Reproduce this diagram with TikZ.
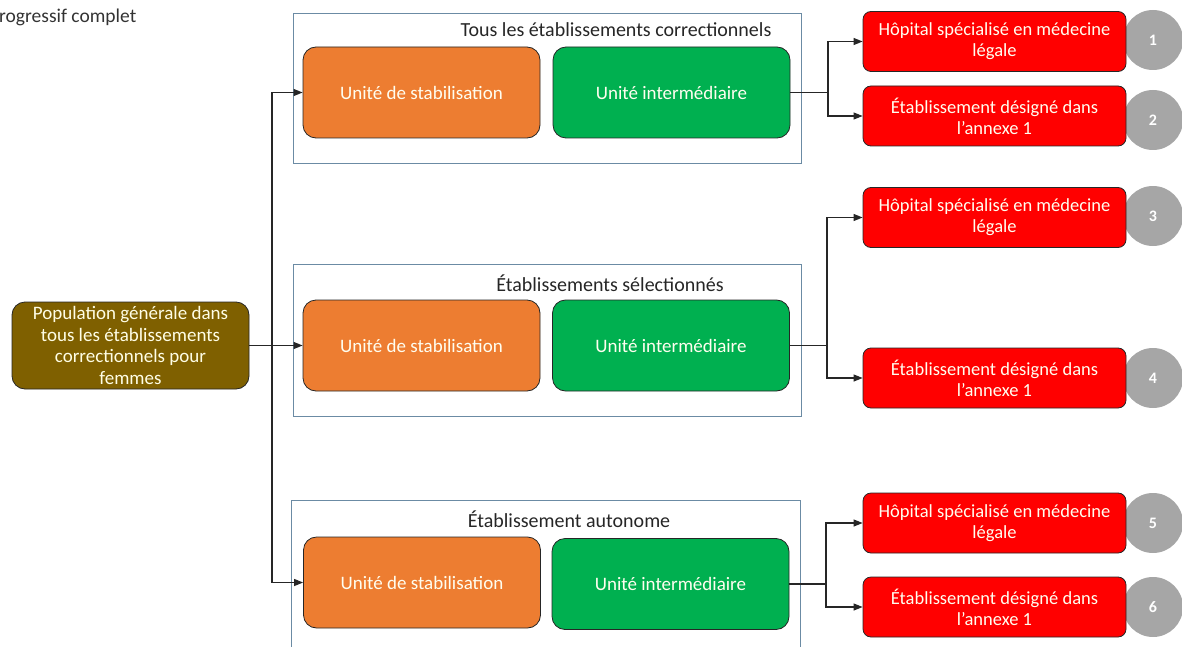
\documentclass[tikz,border=0pt]{standalone}
\usepackage{fontspec}
\setmainfont{Carlito}
\usetikzlibrary{arrows.meta,calc,shapes.geometric}

\definecolor{stabcol}{HTML}{ED7D31}
\definecolor{intercol}{HTML}{00B050}
\definecolor{popcol}{HTML}{7F6000}
\definecolor{grpcol}{HTML}{6B8BA4}
\definecolor{disccol}{HTML}{A6A6A6}
\definecolor{linecol}{HTML}{262626}

\tikzset{
	unitbox/.style={draw=linecol,line width=0.8pt,rounded corners=13pt,minimum width=237pt,minimum height=91pt,text=white!94!yellow,font=\fontsize{19}{22}\selectfont},
	stabbox/.style={unitbox,fill=stabcol},
	interbox/.style={unitbox,fill=intercol},
	popbox/.style={unitbox,fill=popcol,minimum height=87pt,align=center,text=white!90!yellow,font=\fontsize{19}{21.5}\selectfont},
	hopbox/.style={draw=linecol,line width=0.8pt,rounded corners=8pt,fill=red,minimum width=263pt,minimum height=60pt,align=center,text=white!94!yellow,font=\fontsize{18.5}{21}\selectfont},
	grpbox/.style={draw=grpcol,line width=0.9pt,minimum width=508pt},
	grptitle/.style={font=\fontsize{20}{22}\selectfont,text=black!85},
	numdisc/.style={ellipse,fill=disccol,minimum width=60pt,minimum height=60pt,inner sep=0pt,text=white,font=\fontsize{16}{18}\selectfont\bfseries},
	arr/.style={draw=linecol,line width=1.1pt,-{Triangle[length=9pt,width=7pt]}}
}

\begin{document}
\begin{tikzpicture}[x=1pt,y=-1pt]
	\useasboundingbox (0,0) rectangle (1182,647);
	\node[anchor=west,text=black!80,font=\fontsize{19.5}{22}\selectfont,inner sep=0pt] (cut) at (-1,17) {rogressif complet};

	\node[grpbox,minimum height=150pt] (grp1) at (547,88) {};
	\node[grpbox,minimum height=152pt] (grp2) at (547,340) {};
	\node[grpbox,minimum width=509pt,minimum height=170pt] (grp3) at (545.5,585) {};
	\node[grptitle] (ttl1) at (616,30) {Tous les établissements correctionnels};
	\node[grptitle] (ttl2) at (610,283) {Établissements sélectionnés};
	\node[grptitle] (ttl3) at (569,519) {Établissement autonome};

	\node[popbox] (pop) at (130.5,345.5) {Population générale dans\\tous les établissements\\correctionnels pour\\femmes};

	\node[stabbox] (stab1) at (421.5,92.5) {Unité de stabilisation};
	\node[interbox] (inter1) at (671.5,92.5) {Unité intermédiaire};
	\node[stabbox] (stab2) at (421.5,345.5) {Unité de stabilisation};
	\node[interbox] (inter2) at (671,345.5) {Unité intermédiaire};
	\node[stabbox] (stab3) at (422,582.5) {Unité de stabilisation};
	\node[interbox] (inter3) at (670.5,584) {Unité intermédiaire};

	\foreach \n/\y in {1/40,2/120,3/216,4/378,5/523,6/607}
		\node[numdisc] (num\n) at (1153,\y) {\n};

	\node[hopbox] (hop1) at (994.5,41.5) {Hôpital spécialisé en médecine\\légale};
	\node[hopbox] (ann1) at (994.5,116) {Établissement désigné dans\\l’annexe 1};
	\node[hopbox] (hop2) at (994.5,217.5) {Hôpital spécialisé en médecine\\légale};
	\node[hopbox] (ann2) at (994.5,378) {Établissement désigné dans\\l’annexe 1};
	\node[hopbox] (hop3) at (994.5,523) {Hôpital spécialisé en médecine\\légale};
	\node[hopbox] (ann3) at (994.5,607) {Établissement désigné dans\\l’annexe 1};

	\coordinate (jl) at (272,0);
	\draw[arr] (pop.east) -- (pop.east -| jl) |- (stab1.west);
	\draw[arr] (pop.east) -- (stab2.west);
	\draw[arr] (pop.east -| jl) |- (stab3.west);

	\foreach \i/\x in {1/828,2/827,3/826} {
		\coordinate (jr\i) at (\x,0);
		\draw[arr] (inter\i.east) -- (inter\i.east -| jr\i) |- (hop\i.west);
		\draw[arr] (inter\i.east -| jr\i) |- (ann\i.west);
	}
\end{tikzpicture}
\end{document}
